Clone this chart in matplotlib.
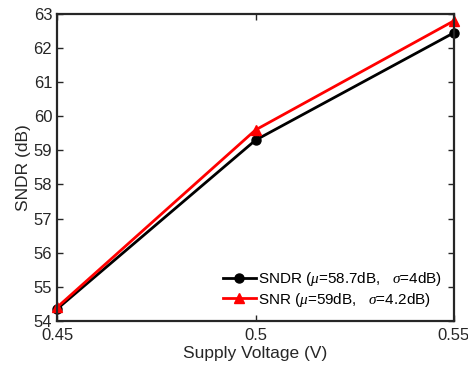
import numpy as np
import matplotlib
matplotlib.use("Agg")
import matplotlib.pyplot as plt

plt.rcParams["font.family"] = ["Liberation Sans", "DejaVu Sans"]
plt.rcParams["mathtext.fontset"] = "custom"
plt.rcParams["mathtext.it"] = "Liberation Serif:italic"

vdd = [0.45, 0.5, 0.55]
sndr = [54.35, 59.3, 62.45]
snr = [54.4, 59.6, 62.8]
sndr_label = r"SNDR ($\mu$=58.7dB,   $\sigma$=4dB)"
snr_label = r"SNR ($\mu$=59dB,   $\sigma$=4.2dB)"

fig = plt.figure(figsize=(4.68, 3.68), dpi=100)
ax = fig.add_axes([0.122, 0.128, 0.848, 0.834])
ax.plot(vdd, sndr, color="k", lw=2, marker="o", ms=6.5, label=sndr_label, clip_on=False)
ax.plot(vdd, snr, color="r", lw=2, marker="^", ms=7.5, label=snr_label, clip_on=False)

ax.set_xlim(0.45, 0.55)
ax.set_ylim(54, 63)
ax.set_xticks([0.45, 0.5, 0.55])
ax.set_xticklabels(["0.45", "0.5", "0.55"])
ax.set_yticks(np.arange(54, 64, 1))
ax.tick_params(direction="in", top=True, right=True, labelsize=12, width=1, length=4, colors="#262626")
ax.tick_params(axis="x", pad=5)
for sp in ax.spines.values():
    sp.set_linewidth(1.6)
    sp.set_color("#262626")
ax.set_xlabel("Supply Voltage (V)", fontsize=12.5, color="#262626", labelpad=2)
ax.set_ylabel("SNDR (dB)", fontsize=12.5, color="#262626", labelpad=2)
ax.legend(loc="lower right", frameon=False, fontsize=11, handlelength=2.2,
          handletextpad=0.1, borderaxespad=0.4, labelspacing=0.15)

fig.savefig("out.png", dpi=100)
